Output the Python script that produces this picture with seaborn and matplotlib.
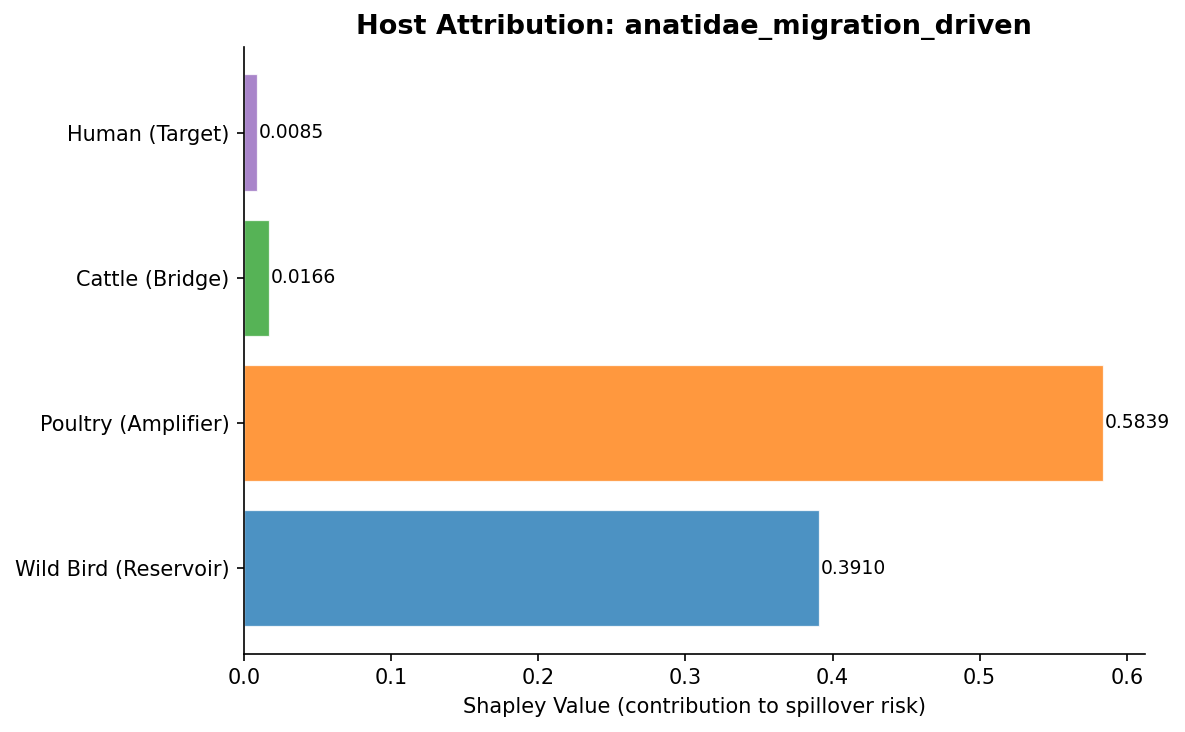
import matplotlib
matplotlib.use("Agg")
import matplotlib.pyplot as plt
import seaborn as sns

# top to bottom as shown on the chart
hosts = ["Human (Target)", "Cattle (Bridge)", "Poultry (Amplifier)", "Wild Bird (Reservoir)"]
shapley = [0.0085, 0.0166, 0.5839, 0.3910]
colors = ["#9467bd", "#2ca02c", "#ff7f0e", "#1f77b4"]

fig, ax = plt.subplots(figsize=(7.9, 4.88), dpi=150)

sns.barplot(x=shapley, y=hosts, hue=hosts, palette=colors, orient="h",
            saturation=1, alpha=0.8, width=0.8, edgecolor="white",
            linewidth=0.6, legend=False, ax=ax)

for i, v in enumerate(shapley):
    ax.text(v + 0.0012, i, f"{v:.4f}", va="center", ha="left", fontsize=9)

ax.set_ylim(3.59, -0.59)
ax.set_xlim(0, 0.6122)
ax.set_xlabel("Shapley Value (contribution to spillover risk)", fontsize=10)
ax.set_ylabel("")
ax.set_title("Host Attribution: anatidae_migration_driven", fontsize=13, fontweight="bold")
ax.tick_params(labelsize=10)
sns.despine(ax=ax)

fig.subplots_adjust(left=0.206, right=0.966, top=0.936, bottom=0.107)
fig.savefig("out.png", dpi=150)
